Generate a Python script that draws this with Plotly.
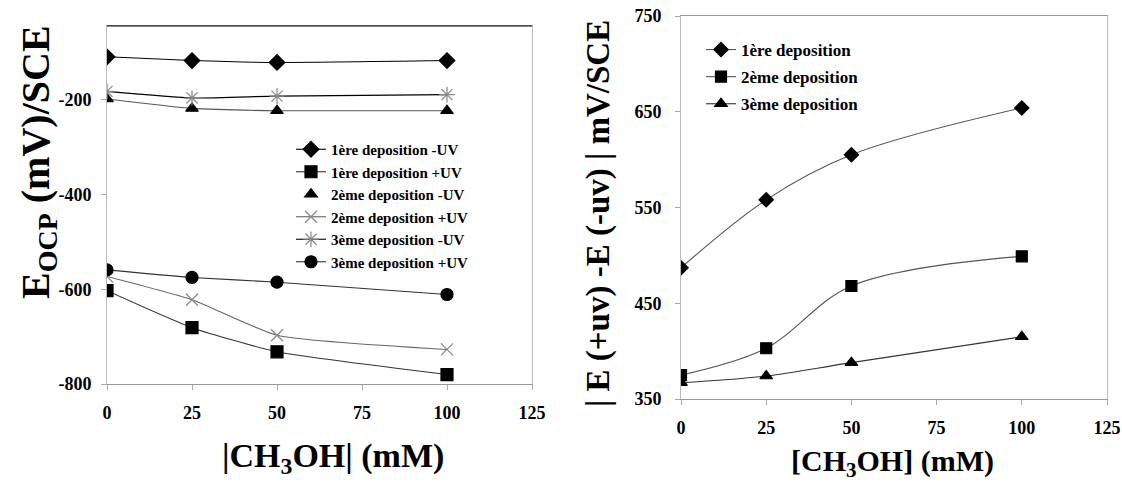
import plotly.graph_objects as go

# ---------------- data ----------------
conc = [0, 25, 50, 100]

# left panel : E_OCP (mV/SCE)
dep1_minus_uv = [-109, -117, -121, -117]
dep1_plus_uv = [-603, -681, -732, -780]
dep2_minus_uv = [-198, -218, -223, -223]
dep2_plus_uv = [-573, -622, -697, -727]
dep3_minus_uv = [-182, -196, -192, -189]
dep3_plus_uv = [-559, -575, -585, -611]

# right panel : |E(+uv) - E(-uv)| (mV/SCE)
diff_dep1 = [487, 558, 605, 654]
diff_dep2 = [375, 403, 468, 499]
diff_dep3 = [367, 374, 388, 415]

x_ticks = [0, 25, 50, 75, 100, 125]
left_y_ticks = [-200, -400, -600, -800]
left_y_labels = ["-200", "-400", "-600", "-800"]
right_y_ticks = [350, 450, 550, 650, 750]

FONT = "Liberation Serif, Times New Roman, serif"
W, H = 1122, 489


def px(x):
    return x / W


def py(y):
    return 1 - y / H


fig = go.Figure()


def add(x, y, name, symbol, size, mcolor, lcolor, xa, ya, legend, showlegend=True,
        mode="lines+markers", smoothing=1.0, lw=1.1, group=None):
    fig.add_trace(go.Scatter(
        x=x, y=y, name=name, mode=mode, xaxis=xa, yaxis=ya, legend=legend,
        showlegend=showlegend, legendgroup=group,
        line=dict(color=lcolor, width=lw, shape="spline", smoothing=smoothing),
        marker=dict(symbol=symbol, size=size, color=mcolor,
                    line=dict(color=mcolor, width=1.2)),
    ))


# left panel
add(conc, dep1_minus_uv, "1ère deposition -UV", "diamond", 12, "black", "black", "x", "y", "legend", smoothing=0.5)
add(conc, dep1_plus_uv, "1ère deposition +UV", "square", 12, "black", "#333333", "x", "y", "legend", smoothing=0.5)
# 2ème -UV : line without legend, markers with legend
add(conc, dep2_minus_uv, "2ème deposition -UV", "triangle-up", 11, "black", "#555555", "x", "y", "legend",
    showlegend=False, mode="lines", smoothing=0.5)
add(conc, dep2_minus_uv, "2ème deposition -UV", "triangle-up", 11, "black", "#555555", "x", "y", "legend",
    mode="markers")
add(conc, dep2_plus_uv, "2ème deposition +UV", "x-thin-open", 12, "#888888", "#666666", "x", "y", "legend", smoothing=0.5)
add(conc, dep3_minus_uv, "3ème deposition -UV", "asterisk-open", 13, "#888888", "black", "x", "y", "legend", smoothing=0.5)
add(conc, dep3_plus_uv, "3ème deposition +UV", "circle", 12, "black", "#333333", "x", "y", "legend", smoothing=0.5)

# right panel
add(conc, diff_dep1, "1ère deposition", "diamond", 11, "black", "#555555", "x2", "y2", "legend2", group="a")
add(conc, diff_dep2, "2ème deposition", "square", 11, "black", "#555555", "x2", "y2", "legend2", group="b")
add(conc, diff_dep3, "3ème deposition", "triangle-up", 11, "black", "#333333", "x2", "y2", "legend2", group="c")

tickfont = dict(family=FONT, size=18, color="black", weight="bold")

common_x = dict(range=[0, 125], tickvals=x_ticks, ticks="outside", ticklen=5,
                tickcolor="#aaaaaa", showgrid=False, zeroline=False, showline=True,
                linecolor="#999999", linewidth=1, tickfont=tickfont, mirror=True)

fig.update_layout(
    width=W, height=H,
    margin=dict(l=0, r=0, t=0, b=0, autoexpand=False),
    paper_bgcolor="white", plot_bgcolor="white",
    xaxis=dict(domain=[px(107), px(532)], anchor="y", ticklabelstandoff=7, **common_x),
    yaxis=dict(domain=[py(384), py(26)], anchor="x", range=[-800, -44],
               tickvals=left_y_ticks, ticktext=left_y_labels, ticks="outside", ticklen=5,
               tickcolor="#aaaaaa", showgrid=False, zeroline=False, showline=True,
               linecolor="#bbbbbb", linewidth=1, tickfont=tickfont, ticklabelstandoff=6,
               mirror=True),
    xaxis2=dict(domain=[px(681), px(1107)], anchor="y2", ticklabelstandoff=7, **common_x),
    yaxis2=dict(domain=[py(399), py(16)], anchor="x2", range=[350, 750],
                tickvals=right_y_ticks, ticks="outside", ticklen=5, tickcolor="#aaaaaa",
                showgrid=False, zeroline=False, showline=True, linecolor="#bbbbbb",
                linewidth=1, tickfont=tickfont, ticklabelstandoff=10, mirror=True),
    legend=dict(x=px(291), y=py(133), xanchor="left", yanchor="top",
                bgcolor="rgba(0,0,0,0)", borderwidth=0, tracegroupgap=0,
                font=dict(family=FONT, size=15, color="black", weight="bold")),
    legend2=dict(x=px(701), y=py(32), xanchor="left", yanchor="top",
                 bgcolor="rgba(0,0,0,0)", borderwidth=0, tracegroupgap=2,
                 font=dict(family=FONT, size=17, color="black", weight="bold")),
)

# black top border on left panel
fig.add_shape(type="line", xref="x domain", yref="y domain", x0=0, x1=1, y0=1, y1=1,
              line=dict(color="black", width=1.2))

# axis titles
fig.add_annotation(text="E<sub>OCP</sub> (mV)/SCE", x=px(38), y=py(162), xref="paper", yref="paper",
                   textangle=-90, showarrow=False, xanchor="center", yanchor="middle",
                   font=dict(family=FONT, size=40, color="black", weight="bold"))
fig.add_annotation(text="|CH<sub>3</sub>OH| (mM)", x=px(333), y=py(458), xref="paper", yref="paper",
                   showarrow=False, xanchor="center", yanchor="middle",
                   font=dict(family=FONT, size=34, color="black", weight="bold"))
fig.add_annotation(text="| E (+uv) -E (-uv) | mV/SCE", x=px(598), y=py(214), xref="paper", yref="paper",
                   textangle=-90, showarrow=False, xanchor="center", yanchor="middle",
                   font=dict(family=FONT, size=33, color="black", weight="bold"))
fig.add_annotation(text="[CH<sub>3</sub>OH] (mM)", x=px(892), y=py(463), xref="paper", yref="paper",
                   showarrow=False, xanchor="center", yanchor="middle",
                   font=dict(family=FONT, size=30, color="black", weight="bold"))

fig.write_html(
    "out.html",
    config={"displayModeBar": False},
    post_script="document.body.style.margin='0px';document.body.style.overflow='hidden';",
)
